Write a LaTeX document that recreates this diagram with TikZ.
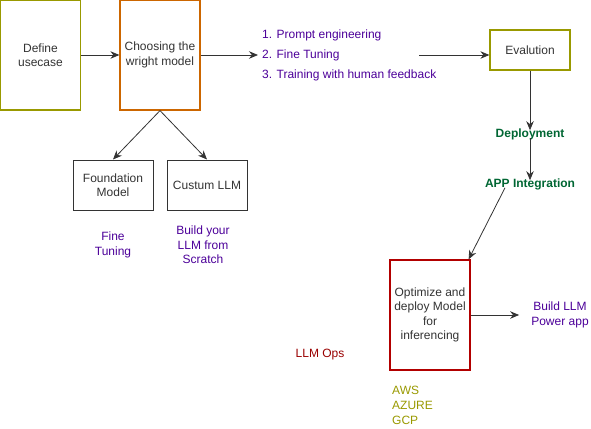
\documentclass[tikz,border=0pt]{standalone}
\usepackage{fontspec}
\setmainfont{Liberation Sans}
\usepackage{tikz}
\usetikzlibrary{positioning,arrows.meta}
\definecolor{boxolive}{HTML}{999900}
\definecolor{boxorange}{HTML}{CC6600}
\definecolor{boxred}{HTML}{B20000}
\definecolor{boxgray}{HTML}{333333}
\definecolor{labpurple}{HTML}{4C0099}
\definecolor{labgreen}{HTML}{006633}
\definecolor{labred}{HTML}{990000}

\begin{document}
\begin{tikzpicture}[x=1pt, y=-1pt, font=\fontsize{12}{14.5}\selectfont,
      box/.style={draw=boxgray, line width=1.2pt, minimum width=80pt, align=center, text=boxgray, inner sep=2pt},
      lab/.style={align=center, inner sep=2pt},
      arr/.style={draw=boxgray, line width=0.8pt, -{Stealth[length=9pt,width=7.5pt]}}]
      \useasboundingbox (0, 0) rectangle (591, 428);
      \node (usecase) [box, draw=boxolive, minimum height=110pt] at (40.5, 55) {Define\\usecase};
      \node (model) [box, draw=boxorange, minimum height=110pt] at (160, 55) {Choosing the\\wright model};
      \node (steps) [lab, anchor=west, align=left, text=labpurple, inner sep=4pt,
                     font=\fontsize{12}{20}\selectfont] at (258, 55)
            {1. Prompt engineering\\2. Fine Tuning\\3. Training with human feedback};
      \coordinate (stepsout) at (419, 55);
      \node (eval) [box, draw=boxolive, minimum height=40pt] at (530, 50) {Evalution};
      \node (deploy) [lab, text=labgreen, font=\fontsize{12}{14.5}\selectfont\bfseries] at (530, 134) {Deployment};
      \node (appint) [lab, text=labgreen, font=\fontsize{12}{14.5}\selectfont\bfseries] at (530, 184) {APP Integration};
      \node (optim) [box, draw=boxred, minimum height=110pt] at (430, 315) {Optimize and\\deploy Model\\for\\inferencing};
      \node (app) [lab, text=labpurple] at (560, 315) {Build LLM\\Power app};
      \node (llmops) [lab, text=labred] at (320, 355) {LLM Ops};
      \node (cloud) [lab, anchor=west, align=left, text=boxolive, inner sep=4pt,
                     font=\fontsize{12}{15}\selectfont] at (388, 405) {AWS\\AZURE\\GCP};
      \node (found) [box, line width=1pt, minimum height=50pt] at (113, 185) {Foundation\\Model};
      \node (custom) [box, line width=1pt, minimum height=50pt] at (207, 185) {Custum LLM};
      \node (finetune) [lab, text=labpurple] at (113, 245) {Fine\\Tuning};
      \node (scratch) [lab, text=labpurple] at (203, 245) {Build your\\LLM from\\Scratch};
      \draw[arr] (usecase) -- (model);
      \draw[arr] (model) -- (steps);
      \draw[arr] (stepsout) -- (stepsout -| eval.west);
      \draw[arr] (model.south) -- (found.north);
      \draw[arr] (model.south) -- (custom.north);
      \draw[arr] (eval) -- ([yshift=-4pt]deploy.north);
      \draw[arr] ([yshift=4pt]deploy.south) -- ([yshift=-4pt]appint.north);
      \draw[arr] ([xshift=-25pt,yshift=4pt]appint.south) -- ([xshift=-2pt]optim.north east);
      \draw[arr] (optim) -- ([xshift=-10pt]app.west);
\end{tikzpicture}
\end{document}
